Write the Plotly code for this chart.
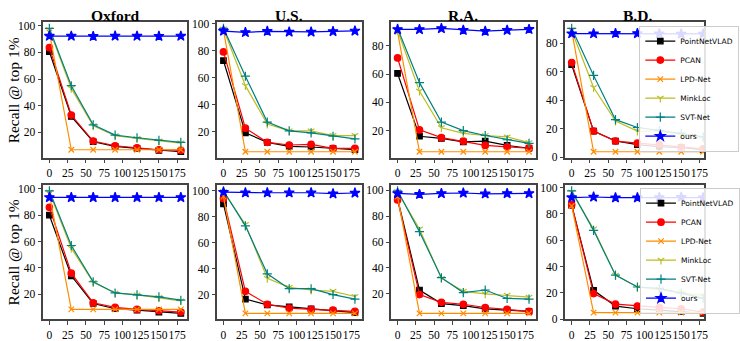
import plotly.graph_objects as go

# ---------------- data ----------------
datasets = ["Oxford", "U.S.", "R.A.", "B.D."]
x_vals = [0, 30, 60, 90, 120, 150, 180]
x_ticks = [0, 25, 50, 75, 100, 125, 150, 175]
y_ticks = [0, 20, 40, 60, 80, 100]
methods = ["PointNetVLAD", "PCAN", "LPD-Net", "MinkLoc", "SVT-Net", "ours"]

# top row (per dataset: Oxford, U.S., R.A., B.D.)
pointnetvlad_top = [[80.5, 32, 13, 9.5, 8, 6.5, 5.5],
                    [72.5, 19, 12, 9, 8.5, 7.5, 6.5],
                    [60.5, 16, 14.5, 12, 12.5, 9.5, 7.5],
                    [65, 18.5, 11.5, 9, 7.5, 7, 5.5]]
pcan_top = [[83.5, 33, 13.5, 10, 8.5, 7, 6.5],
            [79, 22.5, 12, 10, 10.5, 7.5, 7.5],
            [71.5, 20.5, 15, 12.5, 9.5, 8.5, 7.5],
            [66.5, 18.5, 11.5, 10, 9, 7, 6]]
lpdnet_top = [[95, 7, 7, 7, 7, 7, 7],
              [95, 5, 5, 5, 5, 5, 5],
              [90, 5, 5, 5, 5, 5, 5],
              [89, 4, 4, 4, 4, 4, 4]]
minkloc_top = [[97, 53, 25, 17.5, 15.5, 13.5, 12],
               [96, 54, 25.5, 20.5, 20.5, 17, 17],
               [91, 48, 22, 18, 16.5, 15.5, 11.5],
               [89, 49, 25.5, 18.5, 18.5, 16, 13.5]]
svtnet_top = [[98, 55, 25.7, 18, 16, 14, 12.5],
              [96.5, 61, 27, 20.5, 19, 16.5, 14.5],
              [92.5, 54, 26, 20, 16.5, 13.5, 11],
              [90.5, 57.5, 26.5, 21, 19, 17, 14.5]]
ours_top = [[92.2, 92.2, 92.0, 92.3, 92.2, 92.1, 92.2],
            [94.5, 93.5, 94.3, 93.8, 93.8, 94.2, 94.6],
            [91.7, 91.7, 92.4, 91.2, 90.5, 91.2, 91.8],
            [86.8, 86.8, 87.0, 86.9, 86.8, 86.6, 86.6]]

# bottom row
pointnetvlad_bot = [[80, 34, 13, 9, 8, 6.5, 5.5],
                    [90, 16.5, 12, 10.5, 9, 7.5, 6],
                    [93.5, 23, 12.5, 11, 8.5, 7.5, 6.5],
                    [86.5, 22, 10, 8, 7, 6, 4.5]]
pcan_bot = [[86, 36, 13.5, 10, 8.5, 7.5, 6.5],
            [94, 22.5, 12.5, 9.5, 8.5, 8, 7],
            [92.5, 19.5, 13.5, 12, 9.5, 8, 6.5],
            [87, 19.5, 11.5, 10, 9, 8, 5.5]]
lpdnet_bot = [[96, 8.5, 8.5, 8.5, 8.5, 8.5, 8.5],
              [95.5, 5.5, 5.5, 5.5, 5.5, 5.5, 5.5],
              [95, 5, 5, 5, 5, 5, 5],
              [86, 5, 5, 5, 5, 5, 5]]
minkloc_bot = [[97.5, 55, 29, 21, 19.5, 17.5, 15],
               [99.5, 74, 32.5, 25.5, 23.5, 22.5, 18.5],
               [99, 70, 32, 22, 20, 19, 17.5],
               [96.5, 68.5, 33.5, 24.5, 22.5, 20.5, 18]]
svtnet_bot = [[98.5, 57, 29.5, 21, 19.5, 18, 15.5],
              [100, 73, 36, 24.5, 24.5, 20, 16.5],
              [99.5, 68, 32.5, 21, 23, 16.5, 16],
              [97.5, 67.5, 33.5, 24.5, 23.5, 20, 16]]
ours_bot = [[93.5, 93.5, 93.5, 93.5, 93.5, 93.5, 93.5],
            [99, 98.5, 98.5, 98.5, 98.5, 97.8, 98.3],
            [97.5, 96.8, 97.5, 97.8, 97.2, 97.5, 97.5],
            [92.4, 92.8, 92.3, 92.3, 92.5, 92.7, 92.3]]

# ---------------- styles ----------------
W, H = 740, 341
styles = {
    "PointNetVLAD": dict(color="black", symbol="square", size=5.5),
    "PCAN": dict(color="red", symbol="circle", size=6.5),
    "LPD-Net": dict(color="#ff8c00", symbol="x-thin-open", size=5.5),
    "MinkLoc": dict(color="#bcbd22", symbol="y-down-open", size=5.5),
    "SVT-Net": dict(color="#008080", symbol="cross-thin-open", size=6.5),
    "ours": dict(color="blue", symbol="star", size=7.5),
}
rows = [
    [pointnetvlad_top, pcan_top, lpdnet_top, minkloc_top, svtnet_top, ours_top],
    [pointnetvlad_bot, pcan_bot, lpdnet_bot, minkloc_bot, svtnet_bot, ours_bot],
]
col_left = [45, 228, 411, 594]
plot_w = 152
row_top = [19, 189]
row_bot = [161, 330]
serif = "Liberation Serif, Times New Roman, serif"

fig = go.Figure()
layout = {}
annotations = []
for r in range(2):
    for c in range(4):
        k = r * 4 + c + 1
        xa = "x" if k == 1 else f"x{k}"
        ya = "y" if k == 1 else f"y{k}"
        legend_name = "legend" if r == 0 else "legend2"
        allv = []
        for mi, m in enumerate(methods):
            vals = rows[r][mi][c]
            allv += vals
            st = styles[m]
            fig.add_trace(go.Scatter(
                x=x_vals, y=vals, mode="lines+markers", name=m,
                line=dict(color=st["color"], width=1.2),
                marker=dict(symbol=st["symbol"], size=st["size"], color=st["color"],
                            line=dict(color=st["color"], width=1.2)),
                xaxis=xa, yaxis=ya, legend=legend_name,
                showlegend=(c == 3), cliponaxis=(c == 3),
            ))
        lo, hi = min(allv), max(allv)
        pad = 0.05 * (hi - lo)
        yr = [lo - pad, hi + pad]
        xpad = 0.05 * (x_vals[-1] - x_vals[0])
        xr = [x_vals[0] - xpad, x_vals[-1] + xpad]
        x0 = col_left[c]
        x1 = x0 + plot_w
        if x1 > W:
            frac = (W - x0) / plot_w
            xr = [xr[0], xr[0] + (xr[1] - xr[0]) * frac]
            x1 = W
        axis_common = dict(showline=True, mirror=True, linecolor="#444", linewidth=1.5,
                           ticks="outside", ticklen=3.5, tickcolor="#444", tickwidth=1,
                           showgrid=False, zeroline=False,
                           tickfont=dict(family=serif, size=11.5, color="black"))
        layout["xaxis" if k == 1 else f"xaxis{k}"] = dict(
            domain=[x0 / W, x1 / W], range=xr, anchor=ya, tickangle=0,
            tickvals=x_ticks, ticktext=[str(t) for t in x_ticks], **axis_common)
        layout["yaxis" if k == 1 else f"yaxis{k}"] = dict(
            domain=[1 - row_bot[r] / H, 1 - row_top[r] / H], range=yr, anchor=xa,
            tickvals=y_ticks, ticktext=[str(t) for t in y_ticks], **axis_common)
        if r == 0:
            annotations.append(dict(
                text=f"<b>{datasets[c]}</b>", x=(x0 + plot_w / 2) / W, y=1 - 12 / H,
                xref="paper", yref="paper", showarrow=False, xanchor="center", yanchor="middle",
                font=dict(family=serif, size=15.5, color="black")))
    annotations.append(dict(
        text="Recall @ top 1%", x=14 / W, y=1 - ((row_top[r] + row_bot[r]) / 2) / H,
        xref="paper", yref="paper", showarrow=False, textangle=-90,
        xanchor="center", yanchor="middle",
        font=dict(family=serif, size=15.5, color="black")))

legend_common = dict(xanchor="left", yanchor="middle", bgcolor="rgba(255,255,255,0.85)",
                     bordercolor="#cccccc", borderwidth=1,
                     font=dict(family="DejaVu Sans, sans-serif", size=7.5, color="black"),
                     itemwidth=30, tracegroupgap=0)
layout["legend"] = dict(x=672 / W, y=1 - 88.5 / H, **legend_common)
layout["legend2"] = dict(x=673 / W, y=1 - 258 / H, **legend_common)

fig.update_layout(width=W, height=H, margin=dict(l=0, r=0, t=0, b=0),
                  paper_bgcolor="white", plot_bgcolor="white",
                  annotations=annotations, **layout)
fig.write_html("out.html", config={"displayModeBar": False},
               post_script="document.body.style.margin='0px';document.body.style.overflow='hidden';")
